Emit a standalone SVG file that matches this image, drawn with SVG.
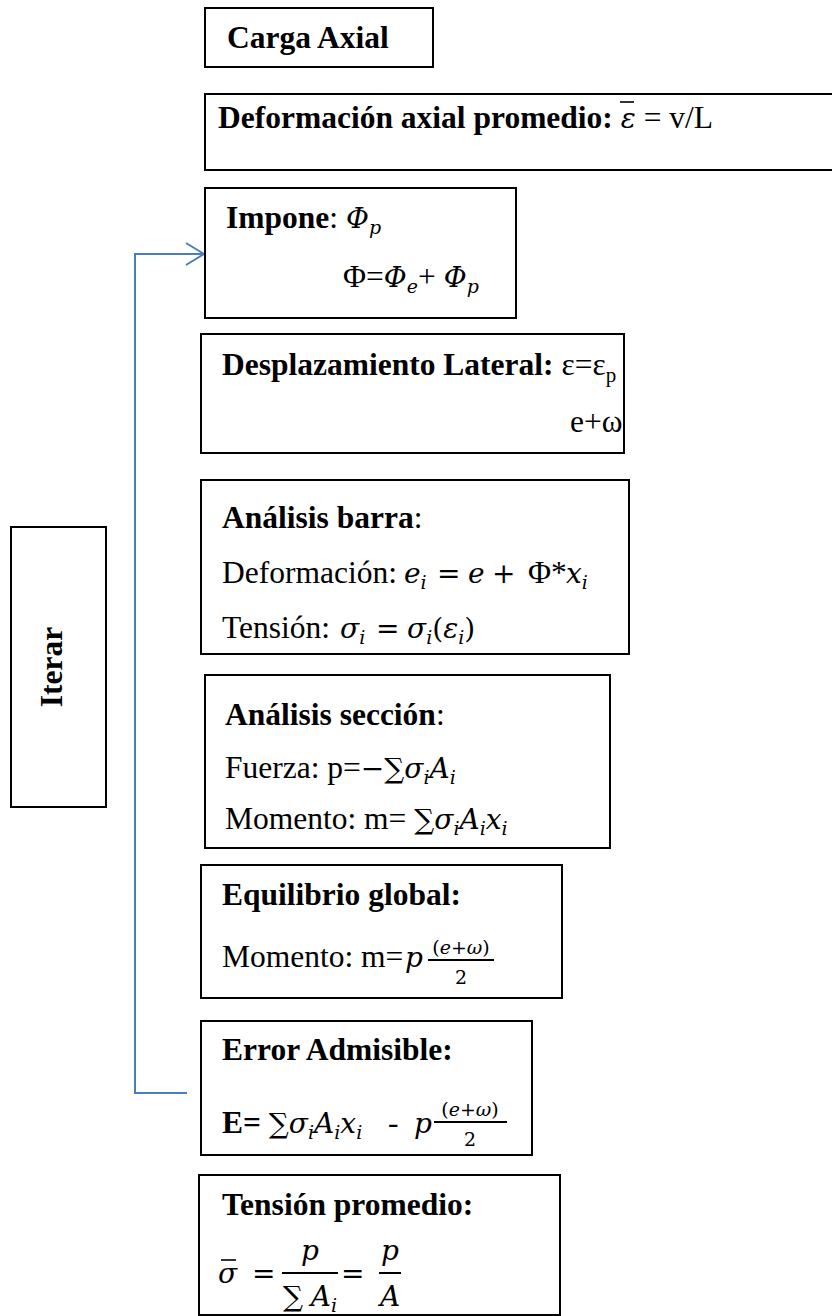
<svg xmlns="http://www.w3.org/2000/svg" width="832" height="1316" viewBox="0 0 832 1316">
<style>
.box{fill:#fff;stroke:#000;stroke-width:2}
text{font-family:"Liberation Serif","Times New Roman",serif;font-size:31.5px;fill:#000}
.b{font-weight:bold}
.m{font-family:"DejaVu Serif",serif;font-style:italic;font-size:28px}
.mo{font-family:"DejaVu Serif",serif;font-size:28px}
.ms{font-family:"DejaVu Serif",serif;font-style:italic;font-size:19px}
.s{font-size:21px}
.fr{font-family:"DejaVu Serif",serif;font-size:19px}
.bar{stroke:#000;stroke-width:2}
.conn{fill:none;stroke:#4a7ebb;stroke-width:2}
</style>
<defs>
<marker id="arr" viewBox="0 0 20 24" refX="19" refY="12" markerWidth="20" markerHeight="24" orient="auto" markerUnits="userSpaceOnUse">
<path d="M1,1 L19,12 L1,23" fill="none" stroke="#4a7ebb" stroke-width="2"/>
</marker>
</defs>
<rect width="832" height="1316" fill="#fff"/>

<g id="connectors">
<polyline class="conn" points="187,1093 135,1093 135,254 204,254" marker-end="url(#arr)"/>
</g>

<g id="iterar">
<rect class="box" x="11" y="527" width="95" height="280"/>
<text class="b" transform="translate(62,667) rotate(-90)" text-anchor="middle">Iterar</text>
</g>

<g id="carga-axial">
<rect class="box" x="205" y="8" width="228" height="59"/>
<text class="b" x="227" y="48">Carga Axial</text>
</g>

<g id="deformacion-axial">
<rect class="box" x="205" y="94" width="640" height="76"/>
<text x="218" y="128"><tspan class="b">Deformación axial promedio:</tspan> <tspan class="m">ε</tspan> = v/L</text>
<line x1="620" y1="102" x2="634" y2="102" stroke="#000" stroke-width="1.6"/>
</g>

<g id="impone">
<rect class="box" x="205" y="188" width="311" height="130"/>
<text x="226" y="228"><tspan class="b">Impone</tspan>: <tspan class="m">Φ</tspan><tspan class="ms" dy="6">p</tspan></text>
<text x="343" y="287">Φ=<tspan class="m">Φ</tspan><tspan class="ms" dy="6">e</tspan><tspan dy="-6">+ </tspan><tspan class="m">Φ</tspan><tspan class="ms" dy="6">p</tspan></text>
</g>

<g id="desplazamiento">
<rect class="box" x="201" y="334" width="423" height="119"/>
<text x="222" y="375"><tspan class="b">Desplazamiento Lateral:</tspan> ε=ε<tspan class="s" dy="7">p</tspan></text>
<text x="570" y="432">e+ω</text>
</g>

<g id="analisis-barra">
<rect class="box" x="201" y="480" width="428" height="174"/>
<text x="222" y="528"><tspan class="b">Análisis barra</tspan>:</text>
<text x="222" y="583">Deformación: <tspan class="m" x="404">e</tspan><tspan class="ms" dy="6">i</tspan><tspan class="mo" dy="-6" x="437">=</tspan><tspan class="m" x="468">e</tspan><tspan class="mo" x="492">+</tspan><tspan x="528">Φ*</tspan><tspan class="m" x="566">x</tspan><tspan class="ms" dy="6">i</tspan></text>
<text x="222" y="638">Tensión: <tspan class="m" x="340">σ</tspan><tspan class="ms" dy="6">i</tspan><tspan class="mo" dy="-6" x="376">=</tspan><tspan class="m" x="407">σ</tspan><tspan class="ms" dy="6">i</tspan><tspan class="mo" dy="-6">(</tspan><tspan class="m">ε</tspan><tspan class="ms" dy="6">i</tspan><tspan class="mo" dy="-6">)</tspan></text>
</g>

<g id="analisis-seccion">
<rect class="box" x="205" y="675" width="405" height="173"/>
<text x="225" y="725"><tspan class="b">Análisis sección</tspan>:</text>
<text x="225" y="778">Fuerza: p=<tspan class="mo">−∑</tspan><tspan class="m">σ</tspan><tspan class="ms" dy="6">i</tspan><tspan class="m" dy="-6">A</tspan><tspan class="ms" dy="6">i</tspan></text>
<text x="225" y="829">Momento: m= <tspan class="mo">∑</tspan><tspan class="m">σ</tspan><tspan class="ms" dy="6">i</tspan><tspan class="m" dy="-6">A</tspan><tspan class="ms" dy="6">i</tspan><tspan class="m" dy="-6">x</tspan><tspan class="ms" dy="6">i</tspan></text>
</g>

<g id="equilibrio-global">
<rect class="box" x="201" y="865" width="361" height="133"/>
<text class="b" x="222" y="905">Equilibrio global:</text>
<text x="222" y="967">Momento: m=<tspan class="m" x="405">p</tspan></text>
<line class="bar" x1="428" y1="960" x2="494" y2="960"/>
<text class="fr" x="461" y="954" text-anchor="middle">(<tspan font-style="italic">e</tspan>+<tspan font-style="italic">ω</tspan>)</text>
<text class="fr" x="461" y="984" text-anchor="middle">2</text>
</g>

<g id="error-admisible">
<rect class="box" x="201" y="1021" width="331" height="134"/>
<text class="b" x="222" y="1060">Error Admisible:</text>
<text x="222" y="1133"><tspan class="b">E=</tspan> <tspan class="mo">∑</tspan><tspan class="m">σ</tspan><tspan class="ms" dy="6">i</tspan><tspan class="m" dy="-6">A</tspan><tspan class="ms" dy="6">i</tspan><tspan class="m" dy="-6">x</tspan><tspan class="ms" dy="6">i</tspan><tspan dy="-6" x="388">-</tspan><tspan class="m" x="414">p</tspan></text>
<line class="bar" x1="434" y1="1122" x2="507" y2="1122"/>
<text class="fr" x="470" y="1116" text-anchor="middle">(<tspan font-style="italic">e</tspan>+<tspan font-style="italic">ω</tspan>)</text>
<text class="fr" x="470" y="1146" text-anchor="middle">2</text>
</g>

<g id="tension-promedio">
<rect class="box" x="199" y="1175" width="361" height="140"/>
<text class="b" x="222" y="1215">Tensión promedio:</text>
<text class="m" x="218" y="1283">σ</text>
<line x1="221" y1="1260" x2="236" y2="1260" stroke="#000" stroke-width="1.6"/>
<text class="mo" x="252" y="1283">=</text>
<line class="bar" x1="282" y1="1273" x2="338" y2="1273"/>
<text class="m" x="310" y="1260" text-anchor="middle">p</text>
<text x="310" y="1306" text-anchor="middle"><tspan class="mo">∑</tspan> <tspan class="m">A</tspan><tspan class="ms" dy="6">i</tspan></text>
<text class="mo" x="341" y="1283">=</text>
<line class="bar" x1="379" y1="1273" x2="401" y2="1273"/>
<text class="m" x="390" y="1260" text-anchor="middle">p</text>
<text class="m" x="390" y="1306" text-anchor="middle">A</text>
</g>
</svg>
